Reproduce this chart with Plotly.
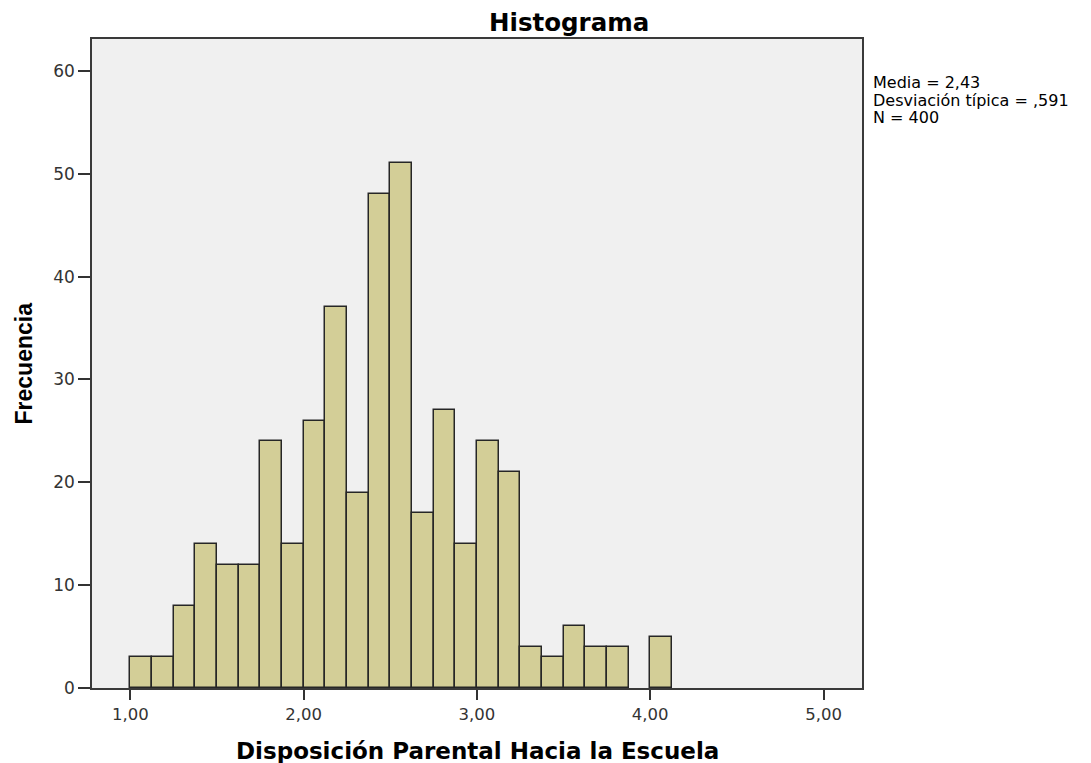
import plotly.graph_objects as go

bin_left = [1.000, 1.125, 1.250, 1.375, 1.500, 1.625, 1.750, 1.875, 2.000, 2.125,
            2.250, 2.375, 2.500, 2.625, 2.750, 2.875, 3.000, 3.125, 3.250, 3.375,
            3.500, 3.625, 3.750, 3.875, 4.000]
freq = [3, 3, 8, 14, 12, 12, 24, 14, 26, 37,
        19, 48, 51, 17, 27, 14, 24, 21, 4, 3,
        6, 4, 4, 0, 5]
bin_width = 0.125
x_tickvals = [1, 2, 3, 4, 5]
x_ticktext = ["1,00", "2,00", "3,00", "4,00", "5,00"]
y_tickvals = [0, 10, 20, 30, 40, 50, 60]
stats_lines = ["Media = 2,43", "Desviación típica = ,591", "N = 400"]

WIDE = "DejaVu Sans, Verdana, sans-serif"
NARROW = "Liberation Sans, Arial, sans-serif"

line_widths = [1.5 if v > 0 else 0 for v in freq]

fig = go.Figure()
fig.add_trace(go.Bar(
    x=bin_left, y=freq, width=bin_width, offset=0,
    marker=dict(color="#D3CE97", line=dict(color="#262626", width=line_widths)),
    hoverinfo="x+y", showlegend=False,
))

# the page body adds an 8px margin, so the figure is sized/offset to compensate
fig.update_layout(
    width=1083, height=755,
    paper_bgcolor="white", plot_bgcolor="#F0F0F0",
    margin=dict(l=84, r=229, t=31, b=75),
    font=dict(family=WIDE, color="#222222"),
    bargap=0,
    xaxis=dict(
        range=[0.779, 5.222], tickvals=x_tickvals, ticktext=x_ticktext,
        ticks="outside", ticklen=10, tickwidth=1.5, tickcolor="#333333",
        showgrid=False, zeroline=False, automargin=False,
        showline=True, linecolor="#3a3a3a", linewidth=1.6, mirror=True,
        tickfont=dict(size=16.5, family=WIDE, color="#333333"),
    ),
    yaxis=dict(
        range=[0, 63.1], tickvals=y_tickvals,
        ticks="outside", ticklen=12, tickwidth=1.5, tickcolor="#333333",
        showgrid=False, zeroline=False, automargin=False,
        showline=True, linecolor="#3a3a3a", linewidth=1.6, mirror=True,
        tickfont=dict(size=17, family=WIDE, color="#333333"),
    ),
)

# chart title
fig.add_annotation(
    text="<b>Histograma</b>", xref="paper", yref="paper",
    x=0.620, y=1.0, yshift=0, xanchor="center", yanchor="bottom",
    showarrow=False, font=dict(size=24.5, family=WIDE, color="black"),
)
# x axis title
fig.add_annotation(
    text="<b>Disposición Parental Hacia la Escuela</b>", xref="paper", yref="paper",
    x=0.5, y=0.0, yshift=-48, xanchor="center", yanchor="top",
    showarrow=False, font=dict(size=23, family=WIDE, color="black"),
)
# y axis title
fig.add_annotation(
    text="<b>Frecuencia</b>", xref="paper", yref="paper",
    x=0.0, xshift=-69, y=0.5, xanchor="center", yanchor="middle", textangle=-90,
    showarrow=False, font=dict(size=23, family=NARROW, color="black"),
)

for i, line in enumerate(stats_lines):
    fig.add_annotation(
        text=line, xref="paper", yref="paper",
        x=1.0, xshift=9, y=1.0, yshift=-32 - 17.7 * i,
        xanchor="left", yanchor="top", showarrow=False,
        font=dict(size=16, family=WIDE, color="black"),
    )

fig.write_html("out.html")
